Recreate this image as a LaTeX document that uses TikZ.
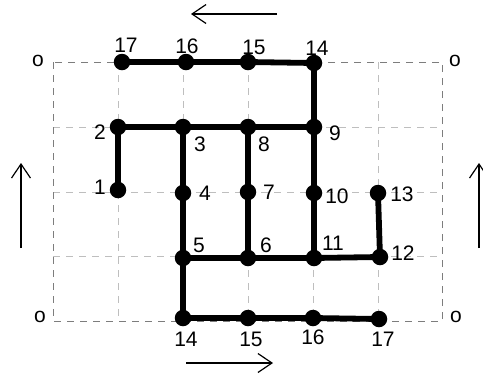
\documentclass[tikz,border=0pt]{standalone}
\usepackage{fontspec}
\setmainfont{Liberation Sans}
\usetikzlibrary{arrows.meta}
\begin{document}
\begin{tikzpicture}[x=1pt,y=-1pt,
  dot/.style={circle,fill=black,draw=none,minimum size=16.5pt,inner sep=0pt},
  edge/.style={line width=5.8pt},
  lab/.style={inner sep=0pt,font=\fontsize{21}{25}\selectfont},
  innergrid/.style={draw={rgb,255:red,190;green,190;blue,190},line width=1pt,dash pattern=on 7pt off 6pt},
  outergrid/.style={draw={rgb,255:red,125;green,125;blue,125},line width=1pt,dash pattern=on 7pt off 6pt},
  dirarrow/.style={line width=1.2pt,-{Straight Barb[length=14pt,width=19pt,line width=1.2pt]}}]
\useasboundingbox (0,0) rectangle (483,376);
% grid
\foreach \gx in {118,183,248,313,378} {\draw[innergrid] (\gx,62) -- (\gx,321);}
\foreach \gy in {127,192,256} {\draw[innergrid] (53,\gy) -- (442,\gy);}
\draw[outergrid] (53,62) rectangle (442,321);
% corner labels
\node[lab] (o1) at (38,61) {o};
\node[lab] (o2) at (455,61) {o};
\node[lab] (o3) at (40,317) {o};
\node[lab] (o4) at (456,317) {o};
% direction arrows
\coordinate (ta) at (277,14); \coordinate (tb) at (191,14);
\coordinate (ba) at (186,363); \coordinate (bb) at (273,363);
\coordinate (la) at (21,248); \coordinate (lb) at (21,163);
\coordinate (ra) at (479,248); \coordinate (rb) at (479,163);
\draw[dirarrow] (ta) -- (tb);
\draw[dirarrow] (ba) -- (bb);
\draw[dirarrow] (la) -- (lb);
\draw[dirarrow] (ra) -- (rb);
% nodes
\node[dot] (t17) at (122,62) {};
\node[dot] (t16) at (186,62) {};
\node[dot] (t15) at (248,62) {};
\node[dot] (t14) at (314,63) {};
\node[dot] (n2) at (118,127) {};
\node[dot] (n3) at (183,127) {};
\node[dot] (n8) at (248,127) {};
\node[dot] (n9) at (314,127) {};
\node[dot] (n1) at (118,190) {};
\node[dot] (n4) at (183,193) {};
\node[dot] (n7) at (248,192) {};
\node[dot] (n10) at (314,193) {};
\node[dot] (n13) at (378,193) {};
\node[dot] (n5) at (183,258) {};
\node[dot] (n6) at (248,258) {};
\node[dot] (n11) at (314,258) {};
\node[dot] (n12) at (380,257) {};
\node[dot] (b14) at (183,318) {};
\node[dot] (b15) at (248,318) {};
\node[dot] (b16) at (313,318) {};
\node[dot] (b17) at (379,319) {};
% edges
\draw[edge] (t17.center) -- (t16.center) -- (t15.center) -- (t14.center) -- (n9.center);
\draw[edge] (n1.center) -- (n2.center) -- (n3.center) -- (n8.center) -- (n9.center);
\draw[edge] (n3.center) -- (n4.center) -- (n5.center) -- (b14.center);
\draw[edge] (n8.center) -- (n7.center) -- (n6.center);
\draw[edge] (n9.center) -- (n10.center) -- (n11.center);
\draw[edge] (n13.center) -- (n12.center);
\draw[edge] (n5.center) -- (n6.center) -- (n11.center) -- (n12.center);
\draw[edge] (b14.center) -- (b15.center) -- (b16.center) -- (b17.center);
% labels
\node[lab] (l17t) at (126,45) {17};
\node[lab] (l16t) at (187,46) {16};
\node[lab] (l15t) at (254,47) {15};
\node[lab] (l14t) at (317,48) {14};
\node[lab] (l2) at (100,132) {2};
\node[lab] (l3) at (200,144) {3};
\node[lab] (l8) at (264,144) {8};
\node[lab] (l9) at (335,133) {9};
\node[lab] (l1) at (100,187) {1};
\node[lab] (l4) at (205,193) {4};
\node[lab] (l7) at (269,192) {7};
\node[lab] (l10) at (337,196) {10};
\node[lab] (l13) at (402,194) {13};
\node[lab] (l5) at (199,245) {5};
\node[lab] (l6) at (266,245) {6};
\node[lab] (l11) at (333,243) {11};
\node[lab] (l12) at (403,253) {12};
\node[lab] (l14b) at (186,339) {14};
\node[lab] (l15b) at (251,339) {15};
\node[lab] (l16b) at (313,337) {16};
\node[lab] (l17b) at (383,339) {17};
\end{tikzpicture}
\end{document}
